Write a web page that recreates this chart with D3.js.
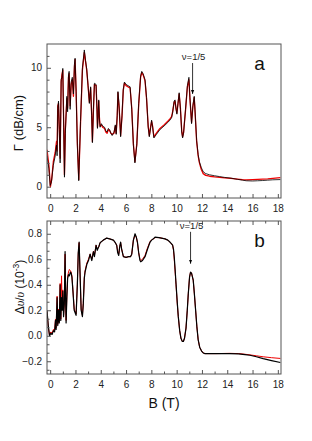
<!DOCTYPE html>
<html><head><meta charset="utf-8">
<script src="https://cdn.jsdelivr.net/npm/d3@7"></script>
<style>body{margin:0;background:#fff}svg{display:block}</style>
</head><body>
<svg id="c" width="312" height="441"></svg>
<script>
// ---- data ----
const xTicks = [0,2,4,6,8,10,12,14,16,18];
const gammaTicks = [0,5,10];
const dvTicks = [-0.2,0.0,0.2,0.4,0.6,0.8];
const annotationText = "ν=1/5";
const panelLetters = ["a","b"];
const arrowB = [11.26, 11.1];

const gammaBlack = [[-0.25,2.6],[-0.1,1.5],[0.0,0.1],[0.1,0.4],[0.25,1.8],[0.4,2.6],[0.5,3.5],[0.55,2.6],[0.6,6.6],[0.66,7.2],[0.72,4.8],[0.79,2.0],[0.87,9.0],[0.93,9.2],[1.0,9.95],[1.07,5.0],[1.13,0.8],[1.2,4.5],[1.32,7.6],[1.38,6.3],[1.45,9.4],[1.5,9.7],[1.58,6.5],[1.66,8.8],[1.75,9.2],[1.84,7.8],[1.92,10.3],[1.97,10.8],[2.05,8.0],[2.15,3.5],[2.26,0.5],[2.4,5.5],[2.55,10.0],[2.7,11.5],[2.8,10.6],[2.89,9.9],[3.0,8.5],[3.1,7.0],[3.2,8.4],[3.28,6.0],[3.34,3.7],[3.42,6.5],[3.5,8.7],[3.63,8.6],[3.7,6.5],[3.74,4.9],[3.8,6.2],[3.84,7.3],[3.9,5.6],[3.95,5.0],[4.05,5.3],[4.15,5.1],[4.3,5.0],[4.4,4.7],[4.5,4.6],[4.6,4.9],[4.7,4.8],[4.8,4.5],[4.9,4.3],[5.05,4.6],[5.15,5.2],[5.22,4.4],[5.3,6.0],[5.36,8.0],[5.45,6.8],[5.57,4.2],[5.68,6.0],[5.78,8.2],[5.87,8.8],[6.0,8.6],[6.15,8.5],[6.32,8.4],[6.45,6.5],[6.58,3.5],[6.7,2.0],[6.85,3.5],[7.0,7.0],[7.15,9.3],[7.24,9.7],[7.35,9.5],[7.5,9.0],[7.62,7.5],[7.75,5.0],[7.84,4.2],[7.95,5.0],[8.02,5.6],[8.1,5.0],[8.2,4.1],[8.4,4.4],[8.68,4.8],[9.0,5.1],[9.3,5.4],[9.47,5.6],[9.6,5.8],[9.68,6.2],[9.8,7.2],[9.87,7.3],[9.95,6.5],[10.02,6.1],[10.1,7.0],[10.2,7.9],[10.3,6.5],[10.4,4.6],[10.47,4.1],[10.55,4.5],[10.7,6.5],[10.85,8.5],[10.97,9.2],[11.05,7.5],[11.18,5.3],[11.28,6.8],[11.39,7.6],[11.45,6.5],[11.58,3.9],[11.7,2.7],[11.8,2.1],[11.95,1.6],[12.1,1.26],[12.3,1.1],[12.6,1.0],[13.0,0.92],[13.4,0.85],[13.8,0.78],[14.3,0.72],[14.8,0.62],[15.2,0.55],[15.5,0.5],[16.0,0.48],[16.4,0.5],[16.8,0.52],[17.2,0.55],[17.6,0.58],[18.2,0.6]];
const gammaRed = [[-0.25,3.1],[-0.1,1.8],[0.02,0.0],[0.12,0.6],[0.25,2.1],[0.4,2.9],[0.5,3.8],[0.55,3.0],[0.6,6.8],[0.66,7.0],[0.72,5.0],[0.79,2.4],[0.87,8.8],[0.93,9.4],[1.0,9.8],[1.07,5.3],[1.13,1.0],[1.2,4.8],[1.32,7.4],[1.38,6.6],[1.45,9.2],[1.5,9.5],[1.58,6.8],[1.66,8.6],[1.75,9.0],[1.84,7.6],[1.92,10.1],[1.97,10.7],[2.05,8.2],[2.15,3.7],[2.26,0.6],[2.4,5.3],[2.55,9.8],[2.7,11.3],[2.8,10.5],[2.89,9.8],[3.0,8.4],[3.1,7.1],[3.2,8.3],[3.28,6.1],[3.34,3.8],[3.42,6.4],[3.5,8.6],[3.63,8.5],[3.7,6.6],[3.74,5.0],[3.8,6.1],[3.84,7.2],[3.9,5.7],[3.95,5.1],[4.05,5.2],[4.15,5.0],[4.3,4.9],[4.4,4.6],[4.5,4.5],[4.6,4.8],[4.7,4.7],[4.8,4.5],[4.9,4.4],[5.05,4.5],[5.15,5.1],[5.22,4.5],[5.3,5.9],[5.36,7.9],[5.45,6.7],[5.57,4.3],[5.68,5.9],[5.78,8.1],[5.87,8.7],[6.0,8.5],[6.15,8.4],[6.32,8.3],[6.45,6.6],[6.58,3.6],[6.7,2.1],[6.85,3.6],[7.0,6.9],[7.15,9.2],[7.24,9.6],[7.35,9.4],[7.5,8.9],[7.62,7.4],[7.75,5.1],[7.84,4.3],[7.95,5.1],[8.02,5.5],[8.1,5.1],[8.2,4.2],[8.4,4.5],[8.68,4.9],[9.0,5.2],[9.3,5.5],[9.47,5.7],[9.6,5.9],[9.68,6.3],[9.8,7.1],[9.87,7.2],[9.95,6.6],[10.02,6.2],[10.1,6.9],[10.2,7.8],[10.3,6.6],[10.4,4.7],[10.47,4.2],[10.55,4.6],[10.7,6.4],[10.85,8.4],[10.97,9.0],[11.05,7.4],[11.18,5.4],[11.28,6.7],[11.39,7.5],[11.45,6.4],[11.58,3.8],[11.7,2.6],[11.8,2.0],[11.95,1.45],[12.1,1.1],[12.3,0.95],[12.6,0.88],[13.0,0.82],[13.4,0.78],[13.8,0.74],[14.3,0.7],[14.8,0.64],[15.2,0.6],[15.5,0.58],[16.0,0.6],[16.4,0.62],[16.8,0.64],[17.2,0.66],[17.6,0.7],[18.2,0.76]];

const dvBlack = [[-0.25,0.2],[-0.15,0.08],[-0.05,0.0],[0.05,0.02],[0.15,0.01],[0.26,0.04],[0.35,0.03],[0.42,0.12],[0.47,0.05],[0.55,0.3],[0.6,0.08],[0.67,0.2],[0.72,0.1],[0.79,0.4],[0.84,0.12],[0.9,0.3],[0.95,0.2],[1.0,0.35],[1.06,0.15],[1.12,0.25],[1.18,0.66],[1.22,0.3],[1.26,0.1],[1.32,0.3],[1.38,0.45],[1.45,0.48],[1.52,0.47],[1.6,0.5],[1.66,0.49],[1.72,0.46],[1.8,0.35],[1.9,0.2],[2.05,0.16],[2.15,0.4],[2.22,0.65],[2.29,0.735],[2.36,0.5],[2.45,0.2],[2.55,0.15],[2.62,0.25],[2.7,0.45],[2.76,0.5],[2.9,0.56],[3.03,0.59],[3.16,0.64],[3.29,0.59],[3.42,0.66],[3.5,0.62],[3.63,0.71],[3.72,0.67],[3.85,0.7],[3.95,0.73],[4.2,0.75],[4.47,0.766],[4.7,0.76],[5.0,0.75],[5.15,0.73],[5.26,0.71],[5.34,0.65],[5.42,0.63],[5.5,0.7],[5.57,0.735],[5.65,0.68],[5.79,0.62],[6.0,0.615],[6.2,0.62],[6.35,0.62],[6.45,0.64],[6.58,0.75],[6.71,0.8],[6.82,0.77],[6.9,0.735],[7.0,0.65],[7.1,0.59],[7.16,0.58],[7.3,0.59],[7.5,0.62],[7.7,0.68],[7.9,0.735],[8.02,0.75],[8.16,0.76],[8.29,0.774],[8.6,0.77],[9.08,0.76],[9.3,0.75],[9.47,0.735],[9.6,0.72],[9.68,0.71],[9.75,0.68],[9.81,0.62],[9.88,0.52],[9.95,0.41],[10.05,0.26],[10.13,0.15],[10.24,0.04],[10.34,-0.02],[10.45,-0.045],[10.53,-0.045],[10.62,-0.02],[10.74,0.06],[10.84,0.2],[10.92,0.33],[11.02,0.46],[11.1,0.5],[11.18,0.49],[11.31,0.436],[11.4,0.33],[11.5,0.2],[11.6,0.07],[11.7,-0.03],[11.82,-0.09],[11.97,-0.12],[12.1,-0.135],[12.24,-0.14],[13.16,-0.14],[14.2,-0.14],[14.9,-0.142],[15.4,-0.148],[15.8,-0.153],[16.3,-0.165],[16.84,-0.18],[17.5,-0.195],[18.2,-0.21]];
const dvRed = [[-0.25,0.19],[-0.15,0.07],[-0.05,0.0],[0.05,0.03],[0.15,0.02],[0.26,0.05],[0.35,0.04],[0.42,0.13],[0.47,0.06],[0.55,0.31],[0.6,0.09],[0.67,0.21],[0.72,0.11],[0.79,0.41],[0.84,0.13],[0.9,0.47],[0.95,0.21],[1.0,0.36],[1.06,0.16],[1.12,0.26],[1.18,0.64],[1.22,0.31],[1.26,0.12],[1.32,0.31],[1.38,0.46],[1.45,0.5],[1.52,0.52],[1.6,0.51],[1.66,0.5],[1.72,0.47],[1.8,0.36],[1.9,0.21],[2.05,0.17],[2.15,0.41],[2.22,0.64],[2.29,0.73],[2.36,0.5],[2.45,0.21],[2.55,0.16],[2.62,0.26],[2.7,0.46],[2.76,0.51],[2.9,0.57],[3.03,0.6],[3.16,0.64],[3.29,0.6],[3.42,0.66],[3.5,0.63],[3.63,0.71],[3.72,0.68],[3.85,0.7],[3.95,0.73],[4.2,0.75],[4.47,0.765],[4.7,0.76],[5.0,0.75],[5.15,0.73],[5.26,0.71],[5.34,0.66],[5.42,0.64],[5.5,0.7],[5.57,0.73],[5.65,0.68],[5.79,0.62],[6.0,0.615],[6.2,0.62],[6.35,0.62],[6.45,0.64],[6.58,0.75],[6.71,0.79],[6.82,0.77],[6.9,0.73],[7.0,0.65],[7.1,0.6],[7.16,0.59],[7.3,0.6],[7.5,0.63],[7.7,0.69],[7.9,0.74],[8.02,0.75],[8.16,0.76],[8.29,0.77],[8.6,0.77],[9.08,0.76],[9.3,0.75],[9.47,0.735],[9.6,0.72],[9.68,0.71],[9.75,0.67],[9.81,0.6],[9.88,0.5],[9.95,0.4],[10.05,0.25],[10.13,0.15],[10.24,0.04],[10.34,-0.02],[10.45,-0.045],[10.53,-0.045],[10.62,-0.02],[10.74,0.06],[10.84,0.2],[10.92,0.33],[11.02,0.46],[11.1,0.5],[11.18,0.49],[11.31,0.436],[11.4,0.33],[11.5,0.2],[11.6,0.07],[11.7,-0.03],[11.82,-0.09],[11.97,-0.12],[12.1,-0.135],[12.24,-0.14],[13.16,-0.14],[14.2,-0.138],[14.9,-0.14],[15.4,-0.145],[15.8,-0.15],[16.3,-0.157],[16.84,-0.165],[17.5,-0.172],[18.2,-0.178]];

// ---- layout ----
const svg = d3.select("#c");
const L = 47, R = 281;
const x = d3.scaleLinear().domain([-0.25, 18.25]).range([L, R]);
const frameCol = "#555", textCol = "#222";
const font = "'Liberation Sans', Arial, sans-serif";

const panels = [
  {top:44, bottom:198, y:d3.scaleLinear().domain([-0.95,12]).range([198,44]),
   major:gammaTicks, minor:d3.range(-0,12,1), fmt:d3.format("d"),
   series:[{d:gammaRed,c:"#e00",w:1.3,o:1},{d:gammaBlack,c:"#000",w:1.0,o:0.8}],
   topTicks:false, letter:panelLetters[0], arrowB:arrowB[0], arrowVal:[10.4, 7.8]},
  {top:221, bottom:374, y:d3.scaleLinear().domain([-0.3,0.9]).range([374,221]),
   major:dvTicks, minor:d3.range(-6,13).map(i=>+(i*0.2/3).toFixed(4)).filter(v=>v>-0.3&&v<0.9), fmt:d3.format(".1f"),
   series:[{d:dvRed,c:"#e00",w:1.0,o:1},{d:dvBlack,c:"#000",w:1.2,o:1}],
   topTicks:true, letter:panelLetters[1], arrowB:arrowB[1], arrowVal:[0.815, 0.565]}
];

const defs = svg.append("defs");
defs.append("marker").attr("id","ah").attr("viewBox","0 0 10 10").attr("refX",10).attr("refY",5)
  .attr("markerWidth",5).attr("markerHeight",5).attr("orient","auto")
  .append("path").attr("d","M0,1 L10,5 L0,9 Z").attr("fill","#000");

panels.forEach((p,i)=>{
  const g = svg.append("g");
  const y = p.y;
  const clipId = "clip"+i;
  defs.append("clipPath").attr("id",clipId).append("rect")
    .attr("x",L).attr("y",p.top).attr("width",R-L).attr("height",p.bottom-p.top);

  const line = d3.line().x(d=>x(d[0])).y(d=>y(d[1]));
  const lg = g.append("g").attr("clip-path",`url(#${clipId})`);
  p.series.forEach(s=>{
    lg.append("path").datum(s.d).attr("d",line).attr("fill","none")
      .attr("stroke",s.c).attr("stroke-width",s.w).attr("stroke-opacity",s.o)
      .attr("stroke-linejoin","round");
  });

  const xMinor = d3.range(0,19,1).filter(v=>v%2);
  const bx = g.append("g").attr("transform",`translate(0,${p.bottom})`);
  bx.call(d3.axisBottom(x).tickValues(xTicks).tickSize(-4).tickPadding(7).tickFormat(d3.format("d")));
  bx.append("g").call(d3.axisBottom(x).tickValues(xMinor).tickSize(-2.5).tickFormat(""));
  if(p.topTicks){
    const tx = g.append("g").attr("transform",`translate(0,${p.top})`);
    tx.call(d3.axisTop(x).tickValues(xTicks).tickSize(-4).tickFormat(""));
    tx.append("g").call(d3.axisTop(x).tickValues(xMinor).tickSize(-2.5).tickFormat(""));
  }
  const ly = g.append("g").attr("transform",`translate(${L},0)`);
  ly.call(d3.axisLeft(y).tickValues(p.major).tickSize(-4).tickPadding(5).tickFormat(p.fmt));
  ly.append("g").call(d3.axisLeft(y).tickValues(p.minor.filter(v=>!p.major.some(m=>Math.abs(m-v)<1e-6))).tickSize(-2.5).tickFormat(""));

  g.selectAll(".domain").remove();
  g.selectAll(".tick line").attr("stroke",frameCol);
  g.selectAll(".tick text").attr("fill",textCol).style("font-family",font).style("font-size","10px");

  g.append("rect").attr("x",L).attr("y",p.top).attr("width",R-L).attr("height",p.bottom-p.top)
    .attr("fill","none").attr("stroke",frameCol).attr("stroke-width",1);

  g.append("text").attr("x",x(16.55)).attr("y",p.top+26).attr("text-anchor","middle")
    .attr("fill","#111").style("font-family",font).style("font-size","19px").text(p.letter);

  const ax = x(p.arrowB);
  g.append("line").attr("x1",ax).attr("x2",ax).attr("y1",y(p.arrowVal[0])).attr("y2",y(p.arrowVal[1]))
    .attr("stroke","#000").attr("stroke-width",0.8).attr("marker-end","url(#ah)");
  g.append("text").attr("x",ax+1).attr("y",y(p.arrowVal[0])-3).attr("text-anchor","middle")
    .attr("fill","#222").style("font-family",font).style("font-size","9.5px").text(annotationText);
});

svg.append("text").attr("transform","translate(23,123) rotate(-90)").attr("text-anchor","middle")
  .attr("fill","#111").style("font-family",font).style("font-size","13px").text("Γ (dB/cm)");

const yt = svg.append("text").attr("transform","translate(24,287) rotate(-90)").attr("text-anchor","middle")
  .attr("fill","#111").style("font-family",font).style("font-size","12px");
yt.append("tspan").text("Δ");
yt.append("tspan").style("font-family","'Liberation Serif', serif").style("font-style","italic").text("υ");
yt.append("tspan").text("/");
yt.append("tspan").style("font-family","'Liberation Serif', serif").style("font-style","italic").text("υ");
yt.append("tspan").text(" (10");
yt.append("tspan").attr("dy",-5).style("font-size","8.5px").text("-3");
yt.append("tspan").attr("dy",5).text(")");

svg.append("text").attr("x",x(9)).attr("y",408).attr("text-anchor","middle")
  .attr("fill","#111").style("font-family",font).style("font-size","14px").text("B (T)");
</script>
</body></html>
